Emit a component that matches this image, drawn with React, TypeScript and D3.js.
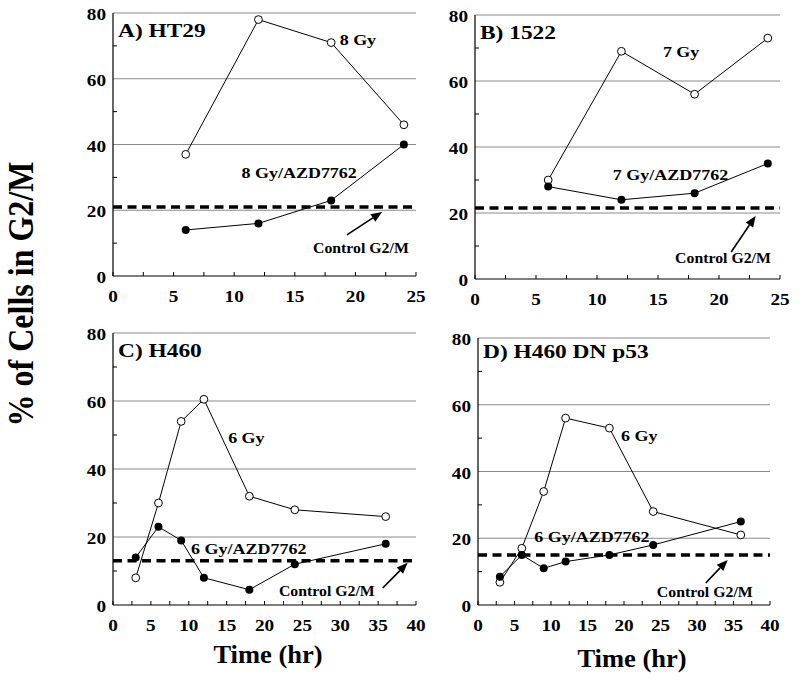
import * as d3 from "d3";

// time points (hr)
const hoursAB = [6, 12, 18, 24];
const hoursCD = [3, 6, 9, 12, 18, 24, 36];

// % of cells in G2/M
const ht29Dose = [37, 78, 71, 46];
const ht29Azd = [14, 16, 23, 40];
const c1522Dose = [30, 69, 56, 73];
const c1522Azd = [28, 24, 26, 35];
const h460Dose = [8, 30, 54, 60.5, 32, 28, 26];
const h460Azd = [14, 23, 19, 8, 4.5, 12, 18];
const dnDose = [6.8, 17, 34, 56, 53, 28, 21];
const dnAzd = [8.5, 15, 11, 13, 15, 18, 25];
const controlLevels = [21, 21.5, 13, 15];

const panelTitles = ["A) HT29", "B) 1522", "C) H460", "D) H460 DN p53"];
const doseLabels = ["8 Gy", "7 Gy", "6 Gy", "6 Gy"];
const comboLabels = ["8 Gy/AZD7762", "7 Gy/AZD7762", "6 Gy/AZD7762", "6 Gy/AZD7762"];
const yTickValues = [0, 20, 40, 60, 80];
const xTicksAB = [0, 5, 10, 15, 20, 25];
const xTicksCD = [0, 5, 10, 15, 20, 25, 30, 35, 40];

const FONT = "'Liberation Serif', 'Times New Roman', Times, serif";

type Pt = [number, number];
type PanelCfg = {
  box: [number, number, number, number]; // x0, x1, yTop, yBot
  titleDy: number;
  xMax: number;
  xTicks: number[];
  hours: number[];
  dose: number[];
  azd: number[];
  control: number;
  title: string;
  doseLabel: string;
  comboLabel: string;
  doseAt: Pt;
  comboAt: Pt;
  ctrlAt: Pt;
  arrow: [Pt, Pt];
};

const panels: PanelCfg[] = [
  {
    box: [113, 416, 13, 276], titleDy: 24, xMax: 25, xTicks: xTicksAB, hours: hoursAB,
    dose: ht29Dose, azd: ht29Azd, control: controlLevels[0],
    title: panelTitles[0], doseLabel: doseLabels[0], comboLabel: comboLabels[0],
    doseAt: [18.7, 70.3], comboAt: [10.6, 29.8], ctrlAt: [16.5, 7.0],
    arrow: [[19.3, 12.5], [22.2, 19.5]],
  },
  {
    box: [475, 780, 15, 279], titleDy: 24, xMax: 25, xTicks: xTicksAB, hours: hoursAB,
    dose: c1522Dose, azd: c1522Azd, control: controlLevels[1],
    title: panelTitles[1], doseLabel: doseLabels[1], comboLabel: comboLabels[1],
    doseAt: [15.4, 67.3], comboAt: [11.3, 30], ctrlAt: [16.4, 4.8],
    arrow: [[21.0, 8.2], [23.0, 19.1]],
  },
  {
    box: [113, 416, 333, 605], titleDy: 24, xMax: 40, xTicks: xTicksCD, hours: hoursCD,
    dose: h460Dose, azd: h460Azd, control: controlLevels[2],
    title: panelTitles[2], doseLabel: doseLabels[2], comboLabel: comboLabels[2],
    doseAt: [15.2, 47.6], comboAt: [10.3, 15], ctrlAt: [21.9, 2.6],
    arrow: [[35.6, 5], [38.9, 12.4]],
  },
  {
    box: [478, 770, 338, 605], titleDy: 20, xMax: 40, xTicks: xTicksCD, hours: hoursCD,
    dose: dnDose, azd: dnAzd, control: controlLevels[3],
    title: panelTitles[3], doseLabel: doseLabels[3], comboLabel: comboLabels[3],
    doseAt: [19.6, 49.1], comboAt: [7.7, 18.9], ctrlAt: [24.5, 2.4],
    arrow: [[31.2, 6.6], [34.2, 13.5]],
  },
];

function Txt({ x, y, size, sx = 1.2, anchor = "start", children }: any) {
  return (
    <text
      transform={`translate(${x},${y}) scale(${sx},1)`}
      fontSize={size}
      fontWeight="bold"
      fontFamily={FONT}
      textAnchor={anchor}
      fill="#000"
    >
      {children}
    </text>
  );
}

function Panel({ cfg }: { cfg: PanelCfg }) {
  const [x0, x1, yTop, yBot] = cfg.box;
  const x = d3.scaleLinear().domain([0, cfg.xMax]).range([x0, x1]);
  const y = d3.scaleLinear().domain([0, 80]).range([yBot, yTop]);
  const line = d3.line<number>().x((_, i) => x(cfg.hours[i])).y(d => y(d));
  const minorX = d3.range(0, cfg.xMax + 0.01, 2.5);
  const minorY = [10, 30, 50, 70];

  const [[ax, ay], [bx, by]] = cfg.arrow;
  const tx = x(ax), ty = y(ay), hx = x(bx), hy = y(by);
  const ang = Math.atan2(hy - ty, hx - tx);
  const hl = 11, hw = 4.5;
  const bxp = hx - hl * Math.cos(ang), byp = hy - hl * Math.sin(ang);
  const head = [
    [hx, hy],
    [bxp - hw * Math.sin(ang), byp + hw * Math.cos(ang)],
    [bxp + hw * Math.sin(ang), byp - hw * Math.cos(ang)],
  ].map(p => p.join(",")).join(" ");

  return (
    <g>
      {yTickValues.filter(v => v > 0).map(v => (
        <line key={"g" + v} x1={x0} x2={x1} y1={y(v)} y2={y(v)} stroke="#8a8a8a" strokeWidth={1} />
      ))}
      {/* axes */}
      <line x1={x0} x2={x0} y1={yTop} y2={yBot} stroke="#000" strokeWidth={1.2} />
      <line x1={x0} x2={x1} y1={yBot} y2={yBot} stroke="#000" strokeWidth={1.2} />
      {minorX.map(v => (
        <line key={"tx" + v} x1={x(v)} x2={x(v)} y1={yBot} y2={yBot - 4} stroke="#000" strokeWidth={1} />
      ))}
      {minorY.map(v => (
        <line key={"ty" + v} x1={x0} x2={x0 + 4} y1={y(v)} y2={y(v)} stroke="#000" strokeWidth={1} />
      ))}
      {yTickValues.map(v => (
        <Txt key={"yl" + v} x={x0 - 7} y={y(v) + 7} size={16} anchor="end">{v}</Txt>
      ))}
      {cfg.xTicks.map(v => (
        <Txt key={"xl" + v} x={x(v)} y={yBot + 26} size={16} anchor="middle">{v}</Txt>
      ))}

      {/* control level */}
      <line x1={x0} x2={x1} y1={y(cfg.control)} y2={y(cfg.control)} stroke="#000" strokeWidth={3.5} strokeDasharray="9 5.5" />

      {/* series */}
      <path d={line(cfg.dose) ?? ""} fill="none" stroke="#000" strokeWidth={1} />
      <path d={line(cfg.azd) ?? ""} fill="none" stroke="#000" strokeWidth={1} />
      {cfg.dose.map((v, i) => (
        <circle key={"o" + i} cx={x(cfg.hours[i])} cy={y(v)} r={3.9} fill="#fff" stroke="#000" strokeWidth={1} />
      ))}
      {cfg.azd.map((v, i) => (
        <circle key={"f" + i} cx={x(cfg.hours[i])} cy={y(v)} r={4} fill="#000" />
      ))}

      {/* arrow */}
      <line x1={tx} y1={ty} x2={bxp} y2={byp} stroke="#000" strokeWidth={1.6} />
      <polygon points={head} fill="#000" />

      <Txt x={x0 + 5} y={yTop + cfg.titleDy} size={18} sx={1.3}>{cfg.title}</Txt>
      <Txt x={x(cfg.doseAt[0])} y={y(cfg.doseAt[1])} size={15}>{cfg.doseLabel}</Txt>
      <Txt x={x(cfg.comboAt[0])} y={y(cfg.comboAt[1])} size={15}>{cfg.comboLabel}</Txt>
      <Txt x={x(cfg.ctrlAt[0])} y={y(cfg.ctrlAt[1])} size={14} sx={1.13}>Control G2/M</Txt>
    </g>
  );
}

export default function App() {
  return (
    <svg
      width={800}
      height={684}
      viewBox="0 0 800 684"
      style={{ position: "absolute", left: 0, top: 0, background: "#fff", display: "block" }}
    >
      <rect width={800} height={684} fill="#fff" />
      {panels.map((p, i) => (
        <Panel key={i} cfg={p} />
      ))}
      <text
        transform="translate(33,294) scale(1.15,1) rotate(-90)"
        fontSize={32}
        fontWeight="bold"
        fontFamily={FONT}
        textAnchor="middle"
      >
        % of Cells in G2/M
      </text>
      <Txt x={268} y={663} size={25} sx={1.06} anchor="middle">Time (hr)</Txt>
      <Txt x={632} y={667} size={25} sx={1.06} anchor="middle">Time (hr)</Txt>
    </svg>
  );
}
